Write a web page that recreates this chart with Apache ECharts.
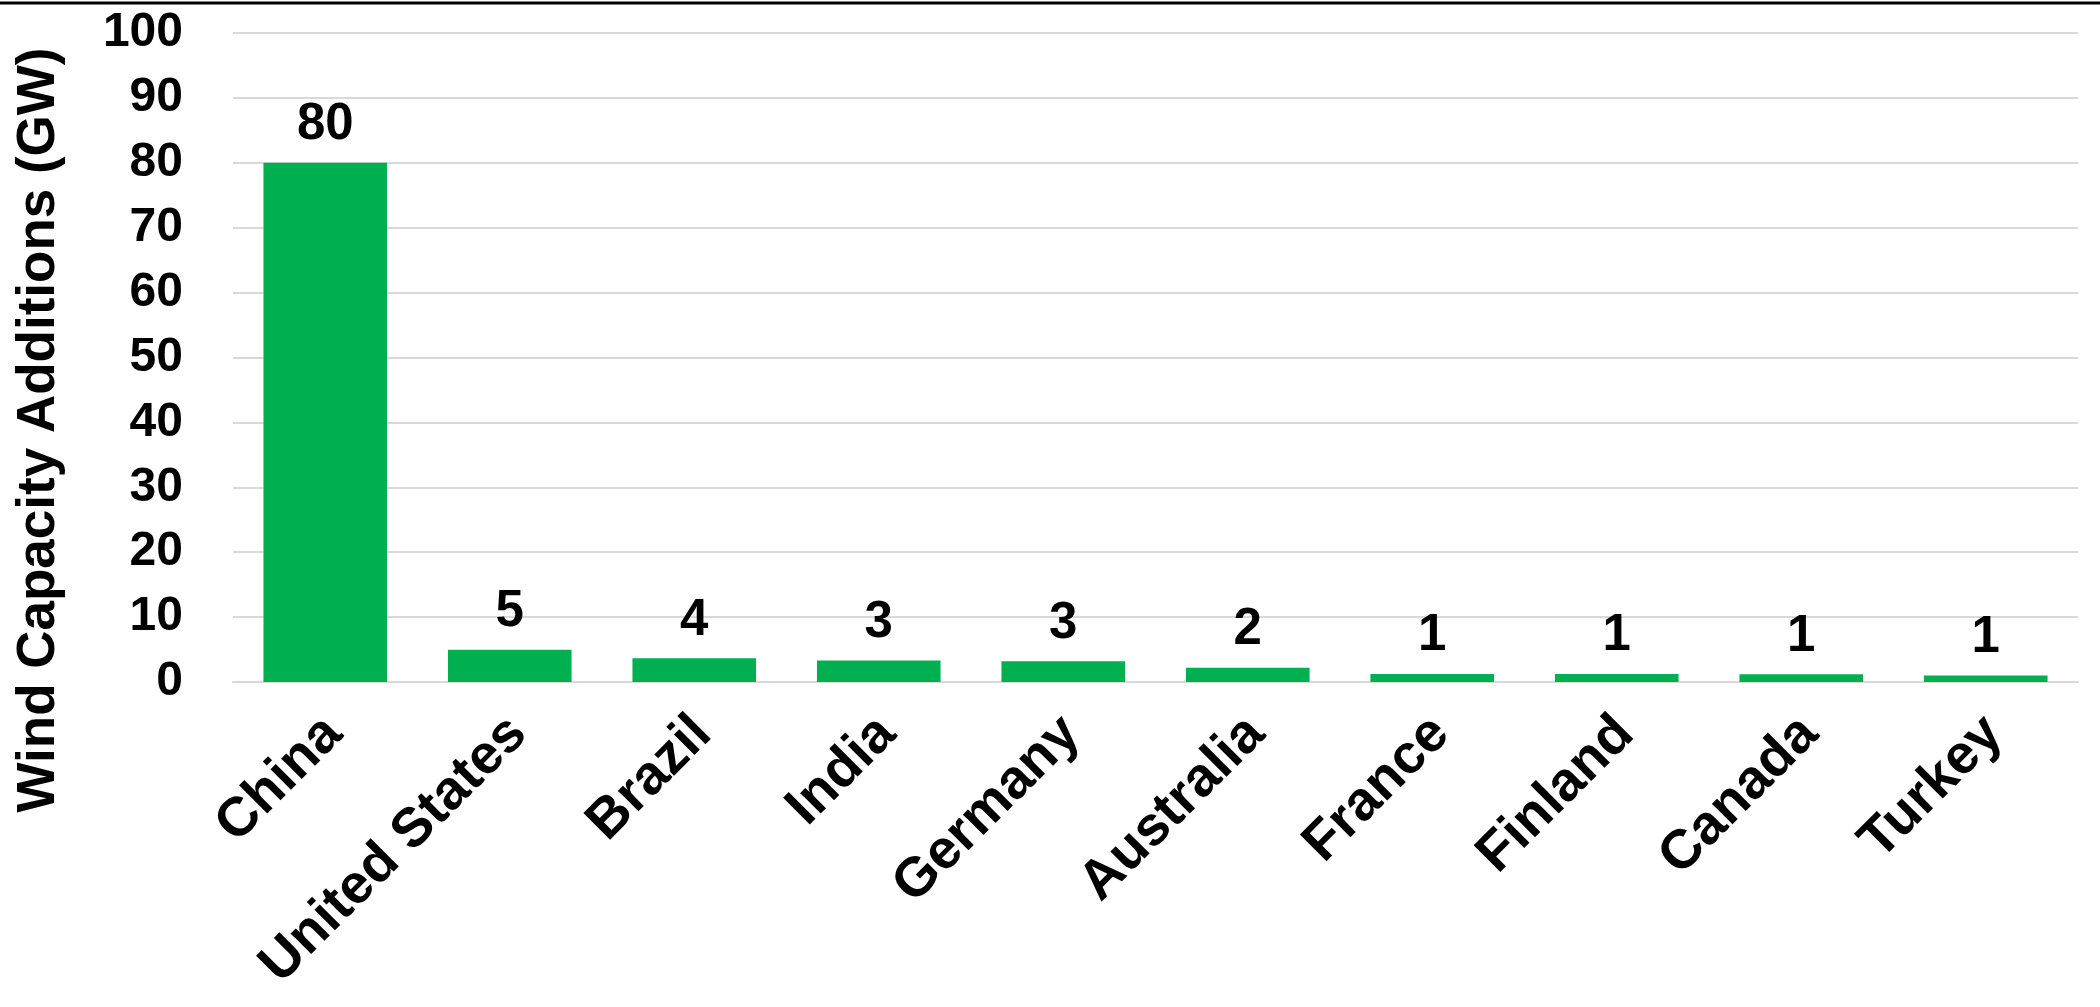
<!DOCTYPE html>
<html>
<head>
<meta charset="utf-8">
<script src="https://cdn.jsdelivr.net/npm/echarts@6/dist/echarts.min.js"></script>
<style>
html,body{margin:0;padding:0;background:#fff;}
#chart{width:2100px;height:1007px;}
</style>
</head>
<body>
<div id="chart"></div>
<script>
const categories = ["China", "United States", "Brazil", "India", "Germany", "Australia", "France", "Finland", "Canada", "Turkey"];
const additions = [80, 4.95, 3.65, 3.3, 3.2, 2.2, 1.25, 1.25, 1.2, 1.0];
const yMin = 0, yMax = 100, yStep = 10;
const yTitle = "Wind Capacity Additions (GW)";

const FONT = "'Liberation Sans', Arial, sans-serif";
const chart = echarts.init(document.getElementById('chart'), null, {renderer: 'canvas'});
chart.setOption({
  backgroundColor: '#ffffff',
  animation: false,
  grid: {left: 233, right: 22, top: 33, bottom: 325, containLabel: false},
  xAxis: {
    type: 'category',
    data: categories,
    axisLine: {show: true, lineStyle: {color: '#d9d9d9', width: 2}},
    axisTick: {show: false},
    axisLabel: {
      rotate: 45, interval: 0, margin: 52, padding: [0, -12, 0, 0],
      color: '#000', fontFamily: FONT, fontWeight: 'bold', fontSize: 55
    }
  },
  yAxis: {
    type: 'value',
    min: yMin, max: yMax, interval: yStep,
    axisLine: {show: false},
    axisTick: {show: false},
    splitLine: {show: true, lineStyle: {color: '#d9d9d9', width: 2}},
    axisLabel: {margin: 50, color: '#000', fontFamily: FONT, fontWeight: 'bold', fontSize: 48}
  },
  series: [{
    type: 'bar',
    data: additions,
    barCategoryGap: '33%',
    itemStyle: {color: '#00B050'},
    label: {
      show: true, position: 'top', distance: 12,
      color: '#000', fontFamily: FONT, fontWeight: 'bold', fontSize: 51,
      formatter: p => String(Math.round(p.value))
    }
  }],
  graphic: [
    {type: 'line', shape: {x1: 0, y1: 3, x2: 2100, y2: 3}, style: {stroke: '#000', lineWidth: 3}},
    {type: 'text', x: 39, y: 430, rotation: Math.PI / 2,
     style: {text: yTitle, fill: '#000', font: "bold 53px 'Liberation Sans', Arial, sans-serif",
             textAlign: 'center', textVerticalAlign: 'middle'}}
  ]
});
</script>
</body>
</html>
